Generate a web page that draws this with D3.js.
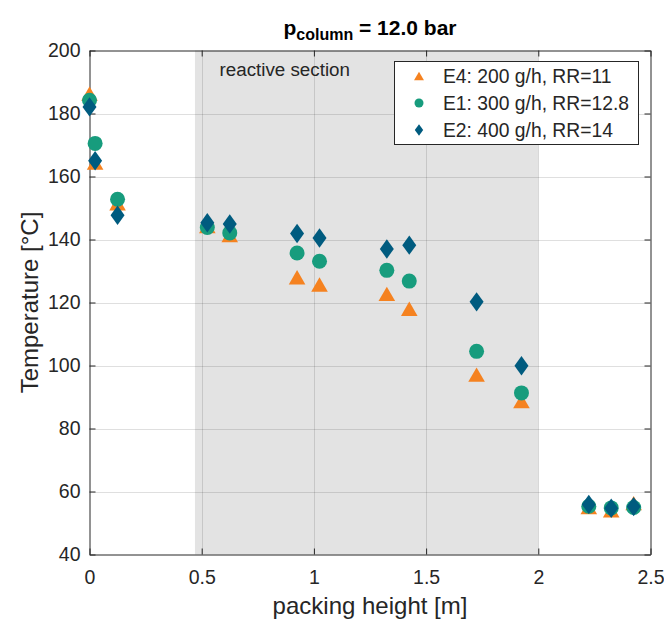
<!DOCTYPE html>
<html>
<head>
<meta charset="utf-8">
<script src="https://cdn.jsdelivr.net/npm/d3@7"></script>
<style>
  body { margin: 0; background: #fff; }
  svg { font-family: "Liberation Sans", Arial, sans-serif; }
</style>
</head>
<body>
<div id="chart"></div>
<script>
// packing height [m] of each measuring point
var heights = [0, 0.025, 0.125, 0.525, 0.625, 0.925, 1.025, 1.325, 1.425, 1.725, 1.925, 2.225, 2.325, 2.425];
// temperatures [°C]
var tempE4 = [186.3, 164.4, 151.5, 144.2, 141.4, 128.0, 125.7, 122.7, 118.0, 97.1, 88.7, 55.0, 54.0, 56.3];
var tempE1 = [184.2, 170.5, 152.8, 143.8, 142.1, 135.7, 133.1, 130.2, 126.8, 104.5, 91.3, 55.3, 54.8, 54.9];
var tempE2 = [182.1, 165.0, 147.7, 145.3, 144.9, 141.9, 140.5, 137.0, 138.2, 120.2, 99.9, 55.9, 54.7, 55.2];
var seriesNames = ["E4: 200 g/h, RR=11", "E1: 300 g/h, RR=12.8", "E2: 400 g/h, RR=14"];
var xTicks = [0, 0.5, 1, 1.5, 2, 2.5];
var yTicks = [40, 60, 80, 100, 120, 140, 160, 180, 200];
var reactive = [0.47, 2.0];

var width = 664, height = 622;
var margin = {left: 89.5, right: 650.5, top: 50.5, bottom: 554.5};
var axisColor = "#262626";

var x = d3.scaleLinear().domain([0, 2.5]).range([margin.left, margin.right]);
var y = d3.scaleLinear().domain([40, 200]).range([margin.bottom, margin.top]);

var svg = d3.select("#chart").append("svg")
  .attr("width", width)
  .attr("height", height);

// reactive section
svg.append("rect")
  .attr("x", x(reactive[0]))
  .attr("y", margin.top)
  .attr("width", x(reactive[1]) - x(reactive[0]))
  .attr("height", margin.bottom - margin.top)
  .attr("fill", "#e3e3e3");

// grid
var grid = svg.append("g").attr("stroke", axisColor).attr("stroke-opacity", 0.15).attr("stroke-width", 1);
grid.selectAll(".gx").data(xTicks.slice(1, -1)).enter().append("line")
  .attr("x1", function (d) { return Math.round(x(d)) + 0.5; })
  .attr("x2", function (d) { return Math.round(x(d)) + 0.5; })
  .attr("y1", margin.top).attr("y2", margin.bottom);
grid.selectAll(".gy").data(yTicks.slice(1, -1)).enter().append("line")
  .attr("y1", function (d) { return Math.round(y(d)) + 0.5; })
  .attr("y2", function (d) { return Math.round(y(d)) + 0.5; })
  .attr("x1", margin.left).attr("x2", margin.right);

svg.append("text")
  .attr("x", 219.5)
  .attr("y", 76)
  .attr("font-size", 18.8)
  .attr("fill", axisColor)
  .text("reactive section");

// axes
function styleAxis(g) {
  g.select(".domain").attr("stroke", axisColor);
  g.selectAll(".tick line").attr("stroke", axisColor);
  g.selectAll(".tick text").attr("fill", axisColor).attr("font-size", 19.5);
}
svg.append("g")
  .attr("transform", "translate(0," + margin.bottom + ")")
  .call(d3.axisBottom(x).tickValues(xTicks).tickSize(-6).tickSizeOuter(0).tickPadding(16).tickFormat(d3.format("")))
  .call(styleAxis);
svg.append("g")
  .attr("transform", "translate(" + margin.left + ",0)")
  .call(d3.axisLeft(y).tickValues(yTicks).tickSize(-6).tickSizeOuter(0).tickPadding(9))
  .call(styleAxis);
svg.append("g")
  .attr("transform", "translate(0," + margin.top + ")")
  .call(d3.axisTop(x).tickValues(xTicks).tickSize(-6).tickSizeOuter(0).tickFormat(""))
  .call(styleAxis);
svg.append("g")
  .attr("transform", "translate(" + margin.right + ",0)")
  .call(d3.axisRight(y).tickValues(yTicks).tickSize(-6).tickSizeOuter(0).tickFormat(""))
  .call(styleAxis);

// markers
var triangle = function (s) { return "M0," + (-7.2 * s) + "L" + (8.3 * s) + "," + (7.1 * s) + "L" + (-8.3 * s) + "," + (7.1 * s) + "Z"; };
var diamond = function (s) { return "M0," + (-9.7 * s) + "L" + (7 * s) + ",0L0," + (9.7 * s) + "L" + (-7 * s) + ",0Z"; };
var circle = function (s) { return d3.symbol().type(d3.symbolCircle).size(Math.PI * 7.5 * 7.5 * s * s)(); };

var series = [
  {name: seriesNames[0], values: tempE4, color: "#f58220", shape: triangle},
  {name: seriesNames[1], values: tempE1, color: "#179c7d", shape: circle},
  {name: seriesNames[2], values: tempE2, color: "#005b7f", shape: diamond}
];

series.forEach(function (s) {
  svg.append("g").selectAll("path")
    .data(s.values)
    .enter().append("path")
    .attr("d", s.shape(1))
    .attr("fill", s.color)
    .attr("transform", function (d, i) { return "translate(" + x(heights[i]) + "," + y(d) + ")"; });
});

// legend
var legend = svg.append("g");
legend.append("rect")
  .attr("x", 394.5).attr("y", 61.5)
  .attr("width", 244).attr("height", 83)
  .attr("fill", "#fff").attr("stroke", axisColor);
series.forEach(function (s, i) {
  var ly = 76 + i * 27;
  legend.append("path")
    .attr("d", s.shape(0.6))
    .attr("fill", s.color)
    .attr("transform", "translate(419," + ly + ")");
  legend.append("text")
    .attr("x", 443).attr("y", ly)
    .attr("dy", "0.36em")
    .attr("font-size", 19.3)
    .attr("fill", axisColor)
    .text(s.name);
});

// labels
var title = svg.append("text")
  .attr("x", (margin.left + margin.right) / 2)
  .attr("y", 35)
  .attr("text-anchor", "middle")
  .attr("font-size", 21)
  .attr("font-weight", "bold")
  .attr("fill", "#000");
title.append("tspan").text("p");
title.append("tspan").attr("font-size", 16).attr("dy", 5).text("column");
title.append("tspan").attr("dy", -5).text(" = 12.0 bar");

svg.append("text")
  .attr("x", (margin.left + margin.right) / 2)
  .attr("y", 614)
  .attr("text-anchor", "middle")
  .attr("font-size", 24)
  .attr("fill", axisColor)
  .text("packing height [m]");

svg.append("text")
  .attr("transform", "translate(38," + (margin.top + margin.bottom) / 2 + ") rotate(-90)")
  .attr("text-anchor", "middle")
  .attr("font-size", 24)
  .attr("fill", axisColor)
  .text("Temperature [°C]");
</script>
</body>
</html>
